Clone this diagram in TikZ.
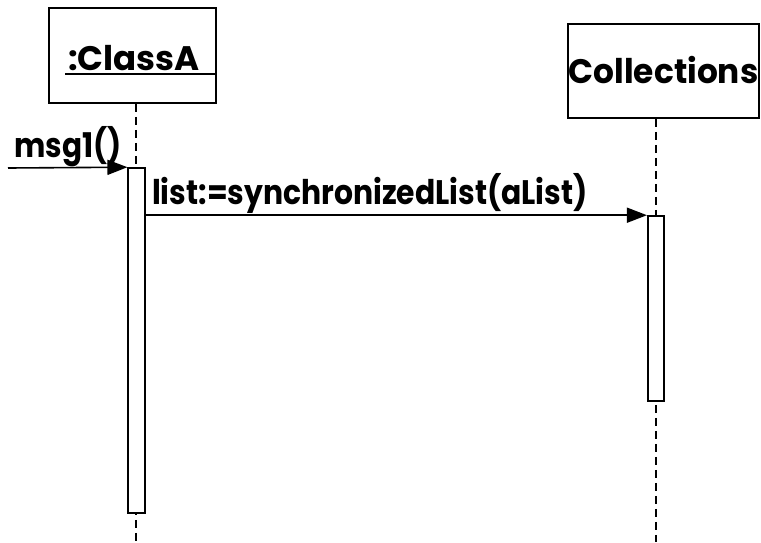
\documentclass[tikz,border=0pt]{standalone}
\usepackage{fontspec}
\usepackage{graphicx}
\setmainfont{Poppins}
\usetikzlibrary{arrows.meta}
\begin{document}
\begin{tikzpicture}[x=1pt,y=-1pt,
  lbl/.style={font=\fontsize{34}{38}\selectfont\bfseries, inner sep=0pt, anchor=base west},
  objbox/.style={draw, line width=1.6pt},
  lifeline/.style={line width=1.6pt, dash pattern=on 8pt off 5pt},
  actbox/.style={draw, fill=white, line width=1.6pt},
  msgarrow/.style={line width=1.6pt, -{Triangle[length=20pt,width=15pt]}}]
\useasboundingbox (0,0) rectangle (761,542);
% object boxes
\node[objbox, minimum width=167pt, minimum height=95pt, inner sep=0pt] (A) at (132.5,55.5) {};
\node[lbl] (Alabel) at (68,70) {:ClassA};
\coordinate (ulstart) at (65,74);
\draw[line width=1.6pt] (ulstart) -- (ulstart -| A.east);
\node[objbox, minimum width=191pt, minimum height=94pt, inner sep=0pt] (C) at (663.5,71) {};
\node[lbl, anchor=base] (Clabel) at (663.5,83) {\scalebox{0.965}[1]{Collections}};
% lifelines
\coordinate (Aend) at (136,542);
\coordinate (Cend) at (656,542);
\draw[lifeline] (A.south -| Aend) -- (Aend);
\draw[lifeline] (C.south -| Cend) -- (Cend);
% activations
\node[actbox, minimum width=16.5pt, minimum height=345pt, inner sep=0pt] (actA) at (136.5,340.5) {};
\node[actbox, minimum width=16.5pt, minimum height=185pt, inner sep=0pt] (actC) at (656,308.5) {};
% messages
\coordinate (src) at (8,168);
\draw[msgarrow] (src) -- (actA.north west);
\node[lbl] (m1) at (14,157) {\scalebox{0.87}[1]{msg1()}};
\draw[msgarrow] (actA.east |- actC.north) -- (actC.north west);
\node[lbl] (m2) at (152,204) {\scalebox{0.877}[1]{list:=synchronizedList(aList)}};
\end{tikzpicture}
\end{document}
